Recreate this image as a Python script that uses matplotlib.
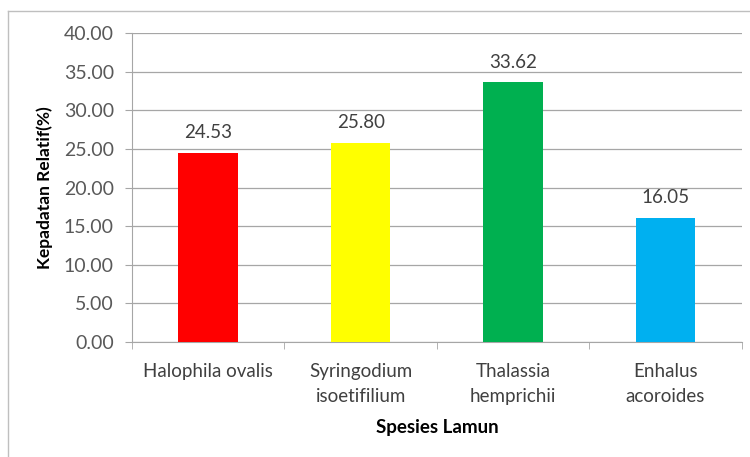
import matplotlib.pyplot as plt
from matplotlib.lines import Line2D

# data
species = ["Halophila ovalis", "Syringodium\nisoetifilium", "Thalassia\nhemprichii", "Enhalus\nacoroides"]
density = [24.53, 25.80, 33.62, 16.05]
bar_colors = ["#ff0000", "#ffff00", "#00b050", "#00b0f0"]
y_ticks = [0, 5, 10, 15, 20, 25, 30, 35, 40]

plt.rcParams["font.family"] = ["Lato", "DejaVu Sans"]

fig = plt.figure(figsize=(7.5, 4.57), dpi=100)
ax = fig.add_axes([0.176, 0.2516, 0.813, 0.6762])

x = range(len(species))
ax.bar(x, density, width=0.39, color=bar_colors, zorder=3)

for xi, v in zip(x, density):
    ax.text(xi, v + 1.5, f"{v:.2f}", ha="center", va="bottom", fontsize=13.5, color="#404040")

ax.set_xlim(-0.5, len(species) - 0.5)
ax.set_ylim(0, 40)
ax.set_yticks(y_ticks)
ax.set_yticklabels([f"{t:.2f}" for t in y_ticks])
ax.set_xticks(list(x))
ax.set_xticklabels(species, linespacing=1.6)
ax.set_xticks([i - 0.5 for i in range(len(species) + 1)], minor=True)

ax.grid(axis="y", color="#a6a6a6", linewidth=0.9, zorder=0)
for s in ["top", "right"]:
    ax.spines[s].set_visible(False)
ax.spines["left"].set_color("#a6a6a6")
ax.spines["bottom"].set_color("#a6a6a6")
ax.tick_params(axis="y", length=5, color="#a6a6a6", labelsize=14, labelcolor="#595959", pad=8)
ax.tick_params(axis="x", which="major", length=0, labelsize=13.5, labelcolor="#404040", pad=15)
ax.tick_params(axis="x", which="minor", length=5, color="#a6a6a6")

ax.set_ylabel("Kepadatan Relatif(%)", fontsize=12.5, fontweight="bold", color="black", labelpad=8)
ax.set_xlabel("Spesies Lamun", fontsize=13.5, fontweight="bold", color="black", labelpad=10)

# outer chart border (top and left edges visible in the reference)
fig.add_artist(Line2D([8 / 750, 1], [1 - 11 / 457, 1 - 11 / 457], color="#bfbfbf", linewidth=1))
fig.add_artist(Line2D([8 / 750, 8 / 750], [0, 1 - 11 / 457], color="#bfbfbf", linewidth=1))

fig.savefig("out.png", dpi=100)
